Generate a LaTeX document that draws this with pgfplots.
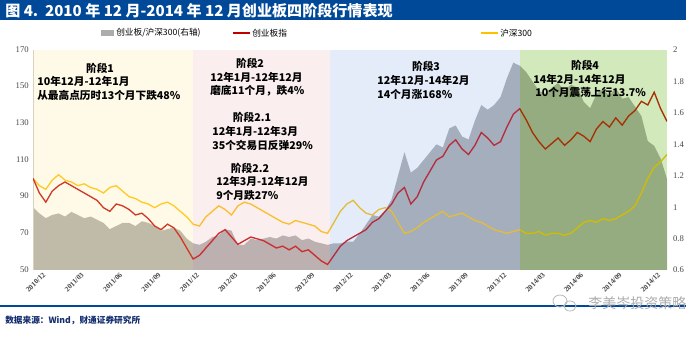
\documentclass[border=0pt]{standalone}
\usepackage{pgfplots}
\pgfplotsset{compat=1.18}
\usepackage{pgfplotstable}
\usepackage{fontspec}
\setmainfont{Liberation Serif}
\newfontfamily\cjk{Noto Sans CJK SC}
\definecolor{titleblue}{RGB}{0,72,152}
\definecolor{footblue}{RGB}{20,45,110}
\definecolor{cybred}{RGB}{192,0,0}
\definecolor{hsyellow}{RGB}{255,192,0}
\definecolor{areagray}{RGB}{172,172,172}
\definecolor{st1}{RGB}{255,235,163}
\definecolor{st2}{RGB}{236,188,188}
\definecolor{st3}{RGB}{148,180,236}
\definecolor{st4}{RGB}{92,175,15}
\definecolor{ticktext}{RGB}{70,70,70}

\pgfplotstableread{
x red yel ratio
0 100 100 1.00
0.5 92 96 0.96
1 87 94 0.93
1.5 93 99 0.95
2 96 102 0.96
2.5 98 99 0.94
3 96 98 0.97
3.5 94 96 0.95
4 92 97 0.93
4.5 90 95 0.94
5 88 94 0.92
5.5 84 92 0.90
6 82 95 0.86
6.5 86 96 0.88
7 85 93 0.90
7.5 83 90 0.90
8 80 89 0.88
8.5 81 87 0.91
9 78 86 0.90
9.5 74 84 0.88
10 72 86 0.85
10.5 75 87 0.86
11 73 85 0.87
11.5 68 82 0.85
12 62 79 0.80
12.5 56 75 0.77
13 58 74 0.76
13.5 62 79 0.78
14 66 82 0.81
14.5 70 85 0.82
15 72 83 0.86
15.5 68 80 0.85
16 64 85 0.76
16.5 66 87 0.76
17 68 86 0.80
17.5 67 84 0.79
18 66 82 0.80
18.5 64 80 0.81
19 62 78 0.80
19.5 63 76 0.82
20 61 75 0.81
20.5 63 77 0.82
21 60 76 0.79
21.5 61 75 0.80
22 58 74 0.78
22.5 55 71 0.77
23 53 70 0.76
23.5 58 76 0.77
24 63 82 0.77
24.5 66 86 0.78
25 68 88 0.78
25.5 70 84 0.83
26 72 81 0.89
26.5 76 80 0.95
27 78 83 0.94
27.5 82 84 0.98
28 86 82 1.05
28.5 92 76 1.20
29 95 70 1.35
29.5 86 71 1.22
30 90 73 1.25
30.5 98 76 1.30
31 104 78 1.35
31.5 110 80 1.40
32 112 82 1.38
32.5 118 79 1.50
33 121 80 1.52
33.5 116 81 1.45
34 113 79 1.43
34.5 118 77 1.55
35 125 76 1.65
35.5 122 74 1.62
36 118 72 1.65
36.5 120 71 1.70
37 128 70 1.82
37.5 135 71 1.92
38 138 72 1.90
38.5 132 70 1.86
39 125 70 1.80
39.5 120 71 1.74
40 116 69 1.72
40.5 119 70 1.76
41 122 70 1.79
41.5 118 69 1.74
42 121 70 1.78
42.5 125 73 1.76
43 123 76 1.67
43.5 120 77 1.63
44 127 76 1.72
44.5 131 78 1.75
45 128 77 1.71
45.5 133 78 1.76
46 129 80 1.69
46.5 134 82 1.70
47 137 85 1.64
47.5 142 92 1.58
48 140 100 1.42
48.5 147 106 1.39
49 138 109 1.31
49.5 131 113 1.18
}\data

\begin{document}
\begin{tikzpicture}
\useasboundingbox (0,0) rectangle (514.5pt,252pt);

% right axis: ratio area
\begin{axis}[
  at={(24.75pt,49.5pt)}, anchor=south west,
  scale only axis, width=475.5pt, height=165pt,
  xmin=0, xmax=49.5, ymin=0.6, ymax=2,
  hide x axis,
  axis y line*=right,
  y axis line style={draw=none},
  ytick={0.6,0.8,1,1.2,1.4,1.6,1.8,2},
  ytick style={draw=none},
  yticklabel style={font=\fontsize{6.5}{7}\selectfont, text=ticktext, /pgf/number format/assume math mode=true, /pgf/number format/fixed, /pgf/number format/precision=1},
  yticklabel shift=1pt,
]
\addplot[fill=areagray, draw=none] table[x=x, y=ratio] {\data} \closedcycle;
\end{axis}

% left axis: lines
\begin{axis}[
  at={(24.75pt,49.5pt)}, anchor=south west,
  scale only axis, width=475.5pt, height=165pt,
  xmin=0, xmax=49.5, ymin=50, ymax=170,
  axis y line*=left, axis x line*=bottom,
  y axis line style={draw=gray!40},
  x axis line style={draw=none},
  ytick={50,70,...,170},
  ytick style={draw=none}, xtick style={draw=none},
  yticklabel style={font=\fontsize{6.5}{7}\selectfont, text=ticktext, /pgf/number format/assume math mode=true, yshift=0.5pt, xshift=-2.5pt, inner sep=0.5pt},
  xtick={0,3,...,48},
  xticklabels={2010/12,2011/03,2011/06,2011/09,2011/12,2012/03,2012/06,2012/09,2012/12,2013/03,2013/06,2013/09,2013/12,2014/03,2014/06,2014/09,2014/12},
  xticklabel style={rotate=45, anchor=north east, font=\fontsize{5.5}{6}\selectfont\bfseries, text=ticktext, inner sep=0pt, xshift=4pt, yshift=-6pt},
  clip=true,
]
\addplot[hsyellow, line width=1pt, no marks] table[x=x, y=yel] {\data};
\addplot[cybred, line width=1pt, no marks] table[x=x, y=red] {\data};
\fill[st1, fill opacity=0.25] (axis cs:0,50) rectangle (axis cs:12.5,170);
\fill[st2, fill opacity=0.25] (axis cs:12.5,50) rectangle (axis cs:23.2,170);
\fill[st3, fill opacity=0.25] (axis cs:23.2,50) rectangle (axis cs:38,170);
\fill[st4, fill opacity=0.28] (axis cs:38,50) rectangle (axis cs:49.5,170);
\end{axis}

\begin{scope}[x=0.75pt, y=-0.75pt, yshift=252pt]
  % title bar
  \fill[titleblue] (0,0) rectangle (686,20);
  \node[anchor=west, text=white, inner sep=0pt] at (5,10.5) {\cjk\bfseries\fontsize{11.3}{13}\selectfont 图 4.\ \ 2010 年 12 月-2014 年 12 月创业板四阶段行情表现};
  % legend
  \fill[areagray] (101,30) rectangle (114,36);
  \node[anchor=west, inner sep=0pt] at (116,33) {\cjk\fontsize{6.5}{8}\selectfont 创业板/沪深300(右轴)};
  \draw[cybred, line width=1.2pt] (233,33) -- (250,33);
  \node[anchor=west, inner sep=0pt] at (252,33) {\cjk\fontsize{6.5}{8}\selectfont 创业板指};
  \draw[hsyellow, line width=1.2pt] (481,33) -- (498,33);
  \node[anchor=west, inner sep=0pt] at (500,33) {\cjk\fontsize{6.5}{8}\selectfont 沪深300};
  % annotations
  \begin{scope}[every node/.style={inner sep=0pt, font=\cjk\bfseries\fontsize{8}{9.5}\selectfont}]
    \node at (100,68) {阶段1};
    \node[anchor=west] at (37,81) {10年12月-12年1月};
    \node[anchor=west] at (37,95) {从最高点历时13个月下跌48\%};
    \node at (250,63) {阶段2};
    \node[anchor=west] at (210,77) {12年1月-12年12月};
    \node[anchor=west] at (210,91) {磨底11个月，跌4\%};
    \node at (252,117) {阶段2.1};
    \node[anchor=west] at (212,131) {12年1月-12年3月};
    \node[anchor=west] at (212,145) {35个交易日反弹29\%};
    \node at (250,168) {阶段2.2};
    \node[anchor=west] at (216,181) {12年3月-12年12月};
    \node[anchor=west] at (216,195) {9个月跌27\%};
    \node at (426,66) {阶段3};
    \node[anchor=west] at (377,80) {12年12月-14年2月};
    \node[anchor=west] at (377,94) {14个月涨168\%};
    \node at (585,65) {阶段4};
    \node[anchor=west] at (533,79) {14年2月-14年12月};
    \node[anchor=west] at (535,93) {10个月震荡上行13.7\%};
  \end{scope}
  % footer
  \draw[titleblue, line width=1pt] (0,306) -- (686,306);
  \node[anchor=west, inner sep=0pt, text=footblue] at (5,320) {\cjk\bfseries\fontsize{6.5}{8}\selectfont 数据来源：Wind，财通证券研究所};
  % watermark
  \draw[gray!55, line width=0.6pt] (560,301) ellipse (7 and 6);
  \draw[gray!55, line width=0.6pt] (570,306) ellipse (6 and 5);
  \node[anchor=west, inner sep=0pt, text=gray!65] at (588,303) {\cjk\fontsize{10.5}{12}\selectfont 李美岑投资策略};
\end{scope}
\end{tikzpicture}
\end{document}
